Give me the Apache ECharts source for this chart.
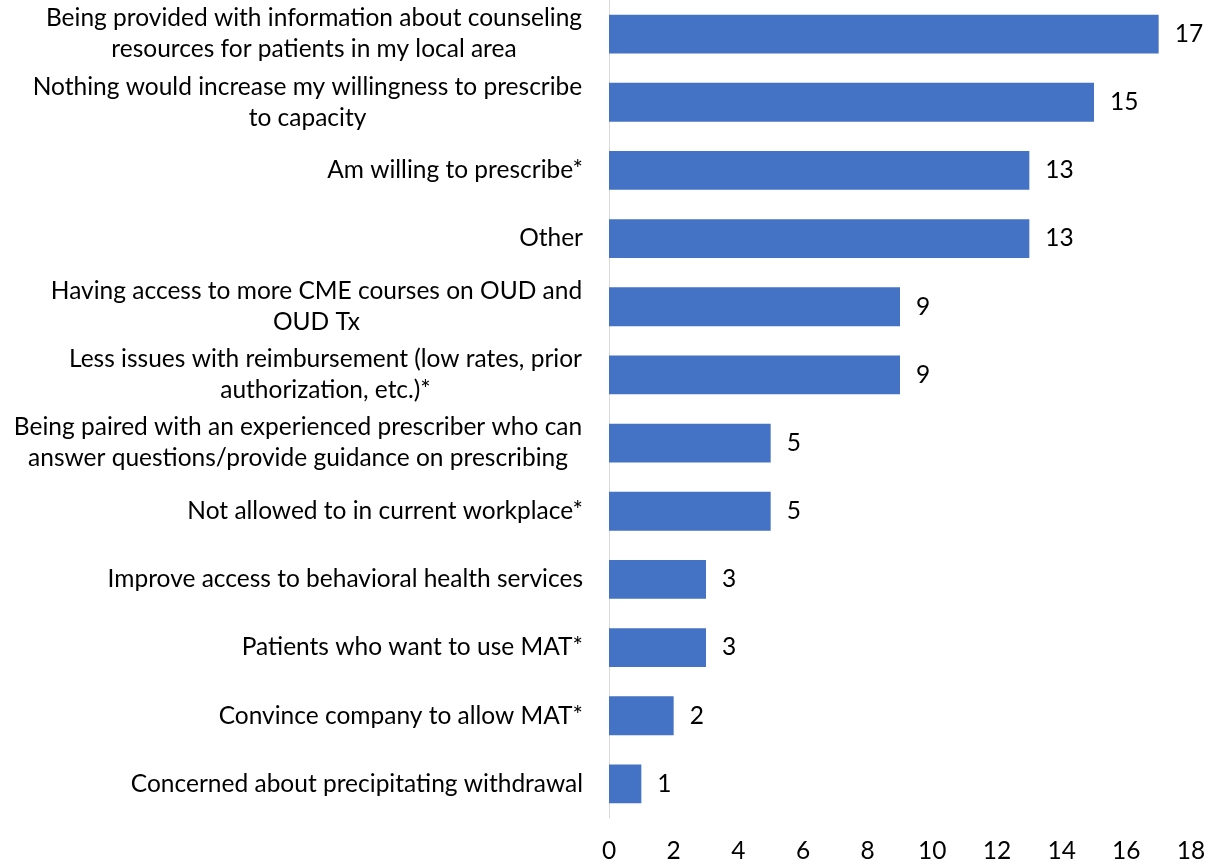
<!DOCTYPE html>
<html>
<head>
<meta charset="utf-8">
<script src="https://cdn.jsdelivr.net/npm/echarts@6/dist/echarts.min.js"></script>
<style>
html,body{margin:0;padding:0;background:#fff;}
#main{width:1214px;height:865px;}
</style>
</head>
<body>
<div id="main"></div>
<script>
var categories = [
  "Being provided with information about counseling\nresources for patients in my local area",
  "Nothing would increase my willingness to prescribe\nto capacity",
  "Am willing to prescribe*",
  "Other",
  "Having access to more CME courses on OUD and\nOUD Tx",
  "Less issues with reimbursement (low rates, prior\nauthorization, etc.)*",
  "Being paired with an experienced prescriber who can\nanswer questions/provide guidance on prescribing",
  "Not allowed to in current workplace*",
  "Improve access to behavioral health services",
  "Patients who want to use MAT*",
  "Convince company to allow MAT*",
  "Concerned about precipitating withdrawal"
];
var values = [17, 15, 13, 13, 9, 9, 5, 5, 3, 3, 2, 1];

var FONT = 'Lato';
var FS = 24.5;
var LH = 31;
var canvas = document.createElement('canvas');
var ctx = canvas.getContext('2d');
ctx.font = FS + 'px ' + FONT;
var rich = {};
function labelFormatter(v) {
  var lines = v.split('\n');
  if (lines.length === 1) return v;
  var w = 0;
  lines.forEach(function (l) { w = Math.max(w, ctx.measureText(l).width); });
  w = Math.ceil(w) + 1;
  rich['w' + w] = { width: w, align: 'center', fontFamily: FONT, fontSize: FS, lineHeight: LH, color: '#000' };
  return lines.map(function (l) { return '{w' + w + '|' + l + '}'; }).join('\n');
}

function build() {
  ctx.font = FS + 'px ' + FONT;
  rich = {};
  categories.forEach(function (c) { labelFormatter(c); });
  var chart = echarts.init(document.getElementById('main'), null, { renderer: 'canvas' });
  chart.setOption({
    animation: false,
    backgroundColor: '#fff',
    grid: { left: 609, right: 23, top: -1, bottom: 47, containLabel: false },
    xAxis: {
      type: 'value', min: 0, max: 18, interval: 2,
      axisLine: { show: false }, axisTick: { show: false }, splitLine: { show: false },
      axisLabel: { color: '#000', fontFamily: FONT, fontSize: FS, margin: 21 }
    },
    yAxis: {
      type: 'category', inverse: true, data: categories,
      axisLine: { show: true, lineStyle: { color: '#d9d9d9', width: 1 } },
      axisTick: { show: false },
      axisLabel: {
        color: '#000', fontFamily: FONT, fontSize: FS, lineHeight: LH, margin: 26,
        align: 'right', formatter: labelFormatter, rich: rich
      }
    },
    series: [{
      type: 'bar', data: values, barWidth: '57%',
      itemStyle: { color: '#4472C4' },
      label: { show: true, position: 'right', distance: 16, color: '#000', fontFamily: FONT, fontSize: FS }
    }]
  });
}
if (document.fonts && document.fonts.load) {
  document.fonts.load(FS + 'px ' + FONT).then(build, build);
} else { build(); }
</script>
</body>
</html>
